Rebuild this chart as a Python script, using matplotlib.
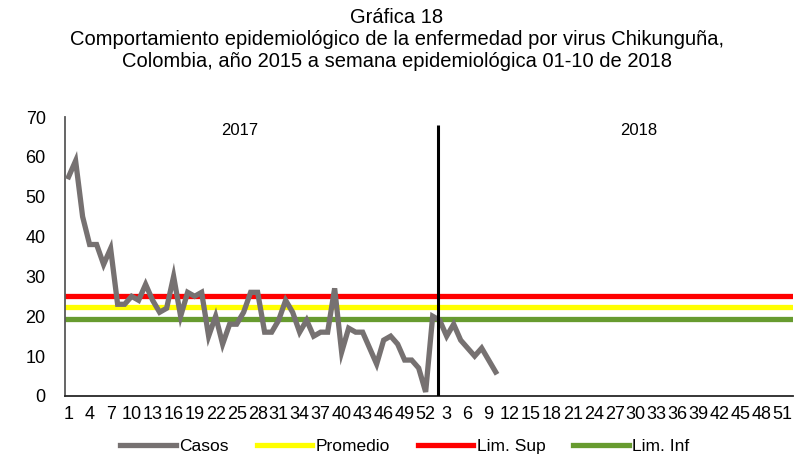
import matplotlib
matplotlib.use("Agg")
import matplotlib.pyplot as plt
import numpy as np

plt.rcParams['font.family'] = ['Liberation Sans', 'DejaVu Sans']

# semanas epidemiologicas (2017 completo + 2018)
semanas_2017 = list(range(1, 53))
semanas_2018 = list(range(1, 53))

# casos por semana
casos_2017 = [55, 59, 45, 38, 38, 33, 37, 23, 23, 25, 24, 28, 24, 21, 22, 30,
              20, 26, 25, 26, 15, 20, 13, 18, 18, 21, 26, 26, 16, 16, 19, 24,
              21, 16, 19, 15, 16, 16, 27, 11, 17, 16, 16, 12, 8, 14, 15, 13,
              9, 9, 7, 1]
casos_2018 = [20, 19, 15, 18, 14, 12, 10, 12, 9, 6]

promedio = 22.2
lim_sup = 25.1
lim_inf = 19.3

titulo = ("Gráfica 18\n"
          "Comportamiento epidemiológico de la enfermedad por virus Chikunguña,\n"
          "Colombia, año 2015 a semana epidemiológica 01-10 de 2018")

etiquetas = [str(s) for s in semanas_2017 + semanas_2018]
n = len(etiquetas)
x = np.arange(n)
casos = casos_2017 + casos_2018
separador = 52.8

fig = plt.figure(figsize=(7.94, 4.68), dpi=100)
ax = fig.add_axes([0.082, 0.154, 0.917, 0.596])

ax.axhline(lim_inf, color='#679B2F', lw=3.8, label='Lim. Inf', zorder=2)
ax.axhline(promedio, color='#FFFF00', lw=3.8, label='Promedio', zorder=2)
ax.axhline(lim_sup, color='#FF0000', lw=3.8, label='Lim. Sup', zorder=2)
ax.plot(x[:len(casos)], casos, color='#767171', lw=3.8, label='Casos',
        zorder=3, solid_joinstyle='miter')
ax.vlines(separador, 0, 68, color='black', lw=2.2, zorder=4)

ax.text(24.5, 66.5, '2017', ha='center', va='center', fontsize=12)
ax.text(81.5, 66.5, '2018', ha='center', va='center', fontsize=12)

ax.set_xlim(-0.5, n - 0.5)
ax.set_ylim(0, 70)
ax.set_yticks(range(0, 71, 10))
ax.set_xticks(x[::3])
ax.set_xticklabels(etiquetas[::3])
ax.tick_params(axis='both', length=0, labelsize=13, pad=7)
ax.tick_params(axis='y', pad=14)

for s in ['top', 'right']:
    ax.spines[s].set_visible(False)
ax.spines['left'].set_color('#595959')
ax.spines['bottom'].set_color('#262626')
ax.spines['left'].set_linewidth(1.3)
ax.spines['bottom'].set_linewidth(1.3)

h, l = ax.get_legend_handles_labels()
orden = [3, 1, 2, 0]
fig.legend([h[i] for i in orden], [l[i] for i in orden], loc='center',
           bbox_to_anchor=(0.51, 0.047), ncol=4, frameon=False,
           fontsize=12.5, handlelength=3.2, handletextpad=0.2,
           columnspacing=1.6)

fig.suptitle(titulo, y=0.982, fontsize=14.5, linespacing=1.2, va='top')

fig.savefig('out.png', dpi=100)
